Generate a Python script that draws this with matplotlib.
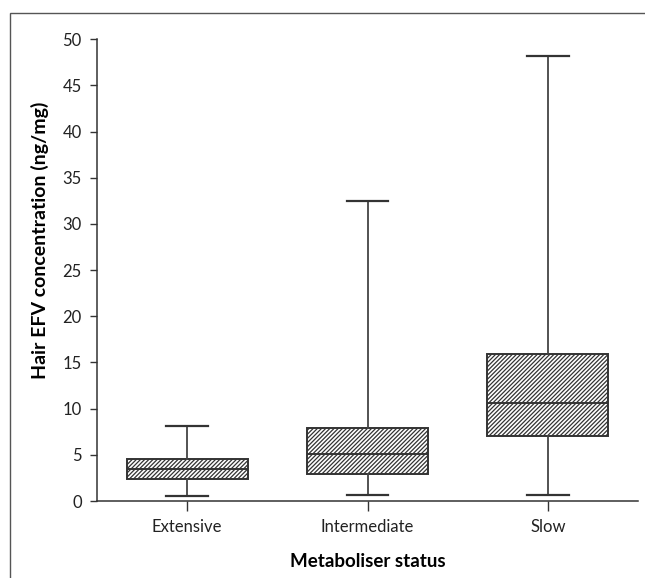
import matplotlib
matplotlib.use("Agg")
import matplotlib.pyplot as plt
from matplotlib.patches import Rectangle

categories = ["Extensive", "Intermediate", "Slow"]
whisker_low = [0.55, 0.6, 0.6]
q1 = [2.4, 2.9, 7.0]
median = [3.5, 5.1, 10.6]
q3 = [4.55, 7.9, 15.9]
whisker_high = [8.1, 32.5, 48.2]
y_ticks = [0, 5, 10, 15, 20, 25, 30, 35, 40, 45, 50]

plt.rcParams['font.family'] = ['Lato', 'DejaVu Sans']
plt.rcParams['hatch.linewidth'] = 0.9
plt.rcParams['hatch.color'] = '#333333'

fig = plt.figure(figsize=(6.45, 5.78), dpi=100)
ax = fig.add_axes([97/645, 1-501/578, (638-97)/645, (501-39.3)/578])

stats = []
for i, c in enumerate(categories):
    stats.append(dict(label=c, whislo=whisker_low[i], q1=q1[i], med=median[i],
                      q3=q3[i], whishi=whisker_high[i], fliers=[]))

bp = ax.bxp(stats, positions=range(len(categories)), widths=0.67,
            patch_artist=True, showfliers=False, capwidths=0.23,
            boxprops=dict(facecolor='white', edgecolor='#333333', linewidth=1.4, hatch='////////'),
            medianprops=dict(color='#333333', linewidth=1.4),
            whiskerprops=dict(color='#444444', linewidth=1.3),
            capprops=dict(color='#333333', linewidth=1.6))

ax.set_xlim(-0.5, 2.5)
ax.set_ylim(0, 50)
ax.set_yticks(y_ticks)
ax.set_yticklabels([str(t) for t in y_ticks], fontsize=12, color='#222222')
ax.set_xticks(range(len(categories)))
ax.set_xticklabels(categories, fontsize=12, color='#222222')
ax.tick_params(axis='y', direction='out', length=5, width=1, color='#333333', pad=6)
ax.tick_params(axis='x', direction='out', length=7, width=1, color='#333333', pad=6)
for s in ['top', 'right']:
    ax.spines[s].set_visible(False)
for s in ['left', 'bottom']:
    ax.spines[s].set_color('#333333')
    ax.spines[s].set_linewidth(1.1)

ax.set_ylabel("Hair EFV concentration (ng/mg)", fontsize=14, fontweight='bold')
ax.yaxis.set_label_coords(-0.088, 0.565)
ax.set_xlabel("Metaboliser status", fontsize=13.5, fontweight='bold', labelpad=13)

fig.patches.append(Rectangle((10/645, -0.1), 1.2, 1 - 13/578 + 0.1, transform=fig.transFigure,
                             fill=False, edgecolor='#555555', linewidth=1.0))

fig.savefig("out.png", dpi=100)
